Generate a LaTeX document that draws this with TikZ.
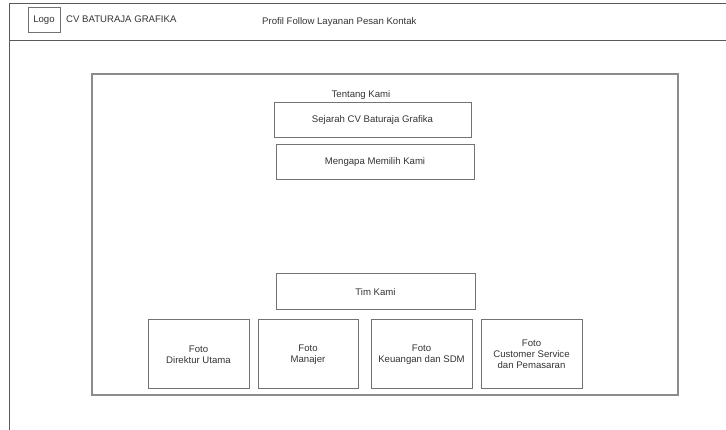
\documentclass[tikz,border=0pt]{standalone}
\usepackage{fontspec}
\setmainfont{Liberation Sans}
\usepackage{tikz}

\begin{document}
\begin{tikzpicture}[
    x=1pt, y=-1pt,
    every node/.style={anchor=center, font=\fontsize{9.6}{11.2}\selectfont, text=black!80},
    frame/.style={draw=black!65, line width=1pt},
    panel/.style={draw=black!45, line width=1.1pt, inner sep=0pt},
    box/.style={draw=black!55, line width=1pt, inner sep=0pt, align=center},
    photo/.style={box, minimum width=101pt, minimum height=69pt}
    ]
\useasboundingbox (0,0) rectangle (726,430);

% Page frame and header
\coordinate (top left) at (9,4);
\coordinate (top right) at (726,4);
\coordinate (bottom left) at (9,430);
\coordinate (sep left) at (9,40.5);
\coordinate (sep right) at (726,40.5);
\draw[frame] (bottom left) -- (top left) -- (top right);
\draw[frame] (sep left) -- (sep right);

\node[box, minimum width=32pt, minimum height=25pt] (logo) at (44,20.5) {Logo};
\node[anchor=west, inner sep=0pt] (brand) at (66,19.5) {CV BATURAJA GRAFIKA};
\node[anchor=west, inner sep=0pt] (menu) at (262,22) {Profil Follow Layanan Pesan Kontak};

% Content panel
\node[panel, minimum width=586pt, minimum height=321pt] (content) at (385,234.5) {};

% Tentang Kami
\node (tentang) at (361,95.5) {Tentang Kami};
\node[box, minimum width=197pt, minimum height=35pt] (sejarah) at (372.5,120.5) {Sejarah CV Baturaja Grafika};
\node[box, minimum width=198pt, minimum height=35pt] (mengapa) at (375,162.5) {Mengapa Memilih Kami};

% Tim Kami
\node[box, minimum width=199pt, minimum height=36pt] (tim) at (375.5,292) {Tim Kami};
\node[photo] (direktur) at (198.5,354.5) {Foto\\Direktur Utama};
\node[photo, minimum width=100pt] (manajer) at (308,354.5) {Foto\\Manajer};
\node[photo] (keuangan) at (421.5,354.5) {Foto\\Keuangan dan SDM};
\node[photo] (cs) at (531.5,354.5) {Foto\\Customer Service\\dan Pemasaran};

\end{tikzpicture}
\end{document}
